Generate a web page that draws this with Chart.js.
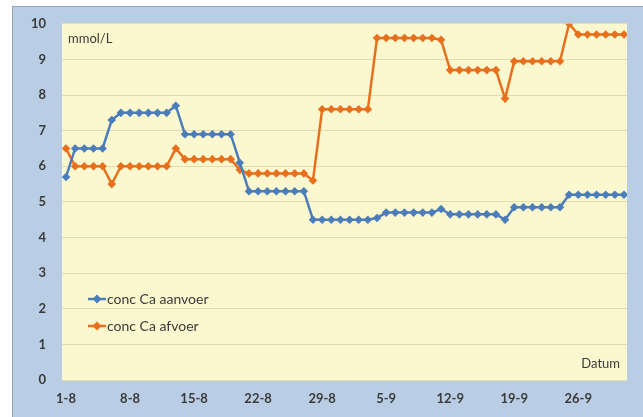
<!DOCTYPE html>
<html>
<head>
<meta charset="utf-8">
<script src="https://cdn.jsdelivr.net/npm/chart.js@4/dist/chart.umd.min.js"></script>
<style>
  html, body { margin: 0; padding: 0; background: #ffffff; }
  canvas { display: block; }
</style>
</head>
<body>
<canvas id="chart" width="643" height="417"></canvas>
<script>
// Daily dates, 1 August to 1 October
const dates = [
  '1-8','2-8','3-8','4-8','5-8','6-8','7-8','8-8','9-8','10-8','11-8','12-8','13-8','14-8','15-8','16-8',
  '17-8','18-8','19-8','20-8','21-8','22-8','23-8','24-8','25-8','26-8','27-8','28-8','29-8','30-8','31-8',
  '1-9','2-9','3-9','4-9','5-9','6-9','7-9','8-9','9-9','10-9','11-9','12-9','13-9','14-9','15-9','16-9',
  '17-9','18-9','19-9','20-9','21-9','22-9','23-9','24-9','25-9','26-9','27-9','28-9','29-9','30-9','1-10'
];

// Weekly tick positions (day index) on the date axis
const tickDays = [0, 7, 14, 21, 28, 35, 42, 49, 56];

// Calcium concentration, mmol/L
const aanvoer = [
  5.7, 6.5, 6.5, 6.5, 6.5, 7.3, 7.5, 7.5, 7.5, 7.5, 7.5, 7.5, 7.7, 6.9, 6.9, 6.9,
  6.9, 6.9, 6.9, 6.1, 5.3, 5.3, 5.3, 5.3, 5.3, 5.3, 5.3, 4.5, 4.5, 4.5, 4.5,
  4.5, 4.5, 4.5, 4.55, 4.7, 4.7, 4.7, 4.7, 4.7, 4.7, 4.8, 4.65, 4.65, 4.65, 4.65,
  4.65, 4.65, 4.5, 4.85, 4.85, 4.85, 4.85, 4.85, 4.85, 5.2, 5.2, 5.2, 5.2, 5.2, 5.2, 5.2
];
const afvoer = [
  6.5, 6.0, 6.0, 6.0, 6.0, 5.5, 6.0, 6.0, 6.0, 6.0, 6.0, 6.0, 6.5, 6.2, 6.2, 6.2,
  6.2, 6.2, 6.2, 5.9, 5.8, 5.8, 5.8, 5.8, 5.8, 5.8, 5.8, 5.6, 7.6, 7.6, 7.6,
  7.6, 7.6, 7.6, 9.6, 9.6, 9.6, 9.6, 9.6, 9.6, 9.6, 9.55, 8.7, 8.7, 8.7, 8.7,
  8.7, 8.7, 7.9, 8.95, 8.95, 8.95, 8.95, 8.95, 8.95, 10.0, 9.7, 9.7, 9.7, 9.7, 9.7, 9.7
];

const seriesNames = ['conc Ca aanvoer', 'conc Ca afvoer'];
const unitLabel = 'mmol/L';
const axisLabel = 'Datum';

const BLUE = '#4a7dba';
const ORANGE = '#e8701d';
const TEXT = '#3a3a3a';
const FONT = 'Lato, "Open Sans", "Liberation Sans", sans-serif';

const toPoints = arr => arr.map((v, i) => ({ x: i, y: v }));

// Outer frame, plot-area fill
const backdrop = {
  id: 'backdrop',
  beforeDraw(chart) {
    const { ctx, chartArea: a, width, height } = chart;
    ctx.save();
    ctx.fillStyle = '#ffffff';
    ctx.fillRect(0, 0, width, height);
    ctx.fillStyle = '#b9cde5';
    ctx.fillRect(12, 6, width - 12, height - 6);
    ctx.strokeStyle = '#9aa3ad';
    ctx.lineWidth = 1;
    ctx.beginPath();
    ctx.moveTo(12.5, height);
    ctx.lineTo(12.5, 6.5);
    ctx.lineTo(width, 6.5);
    ctx.stroke();
    ctx.fillStyle = '#fbf8cf';
    ctx.fillRect(a.left, a.top, a.right - a.left, a.bottom - a.top);
    ctx.restore();
  }
};

// Unit and axis captions plus the in-plot legend
const annotations = {
  id: 'annotations',
  afterDraw(chart) {
    const { ctx, chartArea: a } = chart;
    ctx.save();
    ctx.fillStyle = TEXT;
    ctx.font = '13px ' + FONT;
    ctx.textBaseline = 'middle';
    ctx.textAlign = 'left';
    ctx.fillText(unitLabel, a.left + 6, a.top + 15);
    ctx.textAlign = 'right';
    ctx.fillText(axisLabel, a.right - 7, a.bottom - 16);

    const rows = [299, 326];
    chart.data.datasets.forEach((ds, k) => {
      const y = rows[k];
      ctx.strokeStyle = ds.borderColor;
      ctx.lineWidth = 2.5;
      ctx.beginPath();
      ctx.moveTo(88, y);
      ctx.lineTo(106, y);
      ctx.stroke();
      ctx.fillStyle = ds.borderColor;
      ctx.beginPath();
      ctx.moveTo(97, y - 4.5);
      ctx.lineTo(101.5, y);
      ctx.lineTo(97, y + 4.5);
      ctx.lineTo(92.5, y);
      ctx.closePath();
      ctx.fill();
      ctx.fillStyle = TEXT;
      ctx.font = '14px ' + FONT;
      ctx.textAlign = 'left';
      ctx.fillText(ds.label, 107, y);
    });
    ctx.restore();
  }
};

const line = (label, values, color) => ({
  label,
  data: toPoints(values),
  borderColor: color,
  backgroundColor: color,
  borderWidth: 2.5,
  pointStyle: 'rectRot',
  pointRadius: 4.3,
  pointBorderWidth: 0,
  pointBackgroundColor: color,
  tension: 0,
  fill: false
});

new Chart(document.getElementById('chart'), {
  type: 'line',
  data: {
    datasets: [
      line(seriesNames[0], aanvoer, BLUE),
      line(seriesNames[1], afvoer, ORANGE)
    ]
  },
  options: {
    responsive: false,
    devicePixelRatio: 1,
    animation: false,
    layout: { padding: { top: 22, right: 16, left: 0, bottom: 0 } },
    plugins: { legend: { display: false }, tooltip: { enabled: false } },
    scales: {
      x: {
        type: 'linear',
        min: -0.44,
        max: 61.33,
        grid: { display: false, drawTicks: false },
        border: { display: false },
        afterBuildTicks: axis => { axis.ticks = tickDays.map(v => ({ value: v })); },
        afterFit: axis => { axis.height = 37; },
        ticks: {
          autoSkip: false,
          maxRotation: 0,
          padding: 11,
          color: TEXT,
          font: { family: FONT, size: 13, weight: 'bold' },
          callback: v => dates[v]
        }
      },
      y: {
        min: 0,
        max: 10,
        grid: { color: '#e2dcae', lineWidth: 1, drawTicks: false },
        border: { display: false },
        afterFit: axis => { axis.width = 62; },
        ticks: {
          stepSize: 1,
          padding: 16,
          color: TEXT,
          font: { family: FONT, size: 13, weight: 'bold' }
        }
      }
    }
  },
  plugins: [backdrop, annotations]
});
</script>
</body>
</html>
